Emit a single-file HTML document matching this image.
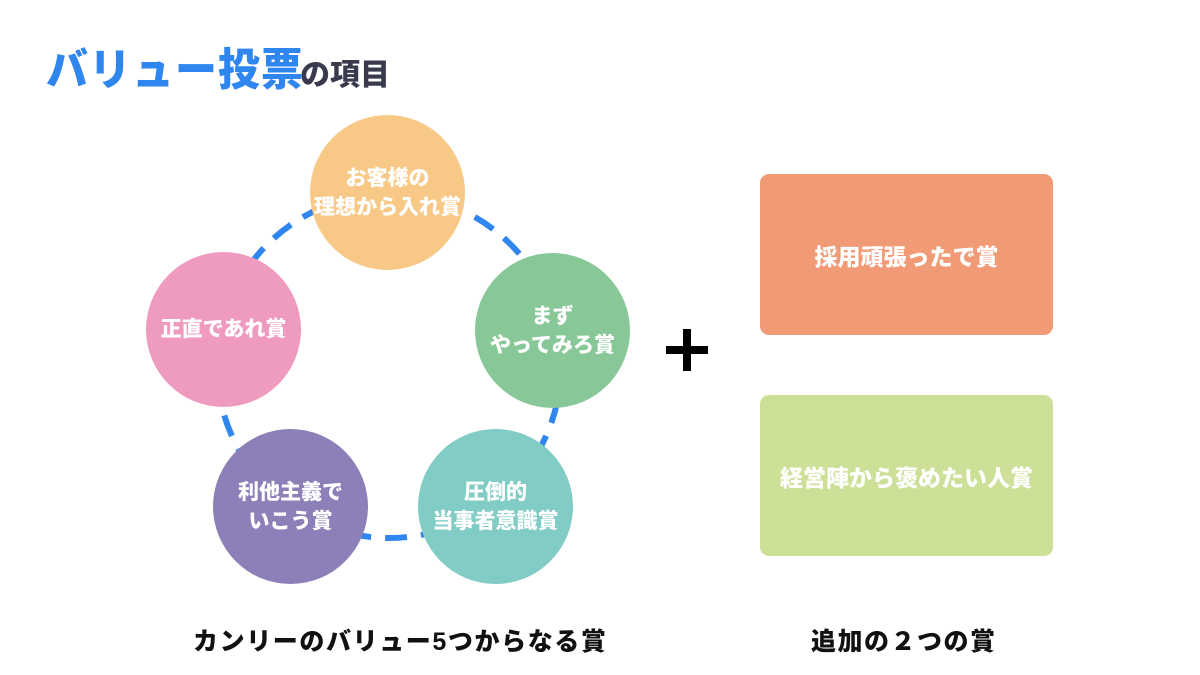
<!DOCTYPE html>
<html><head><meta charset="utf-8"><style>
body{margin:0;width:1200px;height:675px;background:#fff;position:relative;overflow:hidden;font-family:"Liberation Sans","Noto Sans CJK JP",sans-serif;font-weight:bold}
.t{position:absolute;white-space:nowrap}
.c{position:absolute;border-radius:50%;color:#fff;display:flex;align-items:center;justify-content:center;text-align:center;font-size:21px;line-height:29px;font-weight:900}
.r{position:absolute;left:760px;width:293px;border-radius:9px;color:#fff;display:flex;align-items:center;justify-content:center;font-size:23px;font-weight:900}
</style></head><body>
<div class="t" style="left:46px;top:36px;font-size:42px;color:#2f86ef;font-weight:900;letter-spacing:1px;transform:scaleY(1.05)">バリュー投票</div>
<div class="t" style="left:300px;top:50px;font-size:30px;color:#3a3a4e;font-weight:900">の項目</div>
<svg style="position:absolute;left:0;top:0" width="1200" height="675">
<circle cx="389" cy="366" r="172" fill="none" stroke="#2f86ef" stroke-width="6" stroke-dasharray="22 14"/>
<rect x="683" y="329" width="8" height="42" fill="#000"/>
<rect x="666" y="346" width="42" height="8" fill="#000"/>
</svg>
<div class="c" style="left:310px;top:115px;width:155px;height:155px;background:#f8c986">お客様の<br>理想から入れ賞</div>
<div class="c" style="left:146px;top:252px;width:155px;height:155px;background:#ef9bc0">正直であれ賞</div>
<div class="c" style="left:475px;top:253px;width:155px;height:155px;background:#88c898">まず<br>やってみろ賞</div>
<div class="c" style="left:213px;top:429px;width:155px;height:155px;background:#8d80b9">利他主義で<br>いこう賞</div>
<div class="c" style="left:418px;top:429px;width:155px;height:155px;background:#82ccc6">圧倒的<br>当事者意識賞</div>
<div class="r" style="top:174px;height:161px;background:#f19a76">採用頑張ったで賞</div>
<div class="r" style="top:395px;height:161px;background:#cde097">経営陣から褒めたい人賞</div>
<div class="t" style="left:193px;top:622px;font-size:25px;letter-spacing:1.6px;color:#111;font-weight:900">カンリーのバリュー5つからなる賞</div>
<div class="t" style="left:811px;top:622px;font-size:25px;letter-spacing:1.5px;color:#111;font-weight:900">追加の２つの賞</div>
</body></html>
